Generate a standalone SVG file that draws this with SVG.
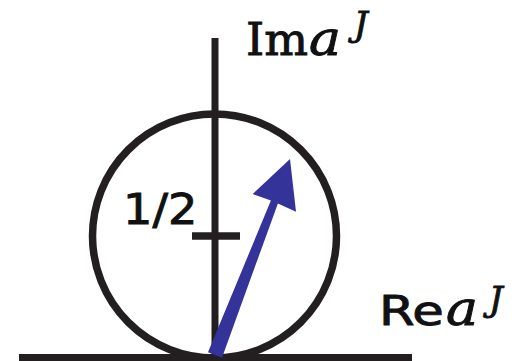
<svg xmlns="http://www.w3.org/2000/svg" width="514" height="361" viewBox="0 0 514 361">
<style>
.ln{stroke:#231f20;fill:none}
.sans{font-family:"DejaVu Sans","Liberation Sans",sans-serif;fill:#111;stroke:#111;stroke-width:0.9}
.serif{font-family:"DejaVu Serif","Liberation Serif",serif;fill:#111;stroke:#111;stroke-width:0.9}
.it{font-style:italic}
</style>
<rect width="514" height="361" fill="#fff"/>
<g id="axes">
<line class="ln" x1="215" y1="38" x2="215" y2="361" stroke-width="7"/>
<line class="ln" x1="19" y1="358" x2="412" y2="358" stroke-width="8"/>
</g>
<g id="circle">
<circle class="ln" cx="214.5" cy="236" r="122" stroke-width="7.5"/>
</g>
<g id="tick">
<line class="ln" x1="192" y1="236" x2="240" y2="236" stroke-width="7.5"/>
<text class="sans" transform="translate(123,224) scale(1.1,1)" font-size="42">1/2</text>
</g>
<g id="connectors">
<polygon fill="#333399" points="208,352.3 222,357.7 277.9,203.4 296,211.7 290,159 252.7,194 270.9,200.6"/>
</g>
<g id="label-im">
<text class="serif" transform="translate(246,55) scale(1.05,1)" font-size="44">Im</text>
<text class="serif it" transform="translate(309,55) scale(1.12,1)" font-size="48">a</text>
<text class="serif it" x="354" y="36" font-size="34">J</text>
</g>
<g id="label-re">
<text class="sans" transform="translate(379,325) scale(1.25,1)" font-size="41">Re</text>
<text class="serif it" transform="translate(446,325) scale(1.12,1)" font-size="48">a</text>
<text class="serif it" x="489" y="311" font-size="34">J</text>
</g>
</svg>
